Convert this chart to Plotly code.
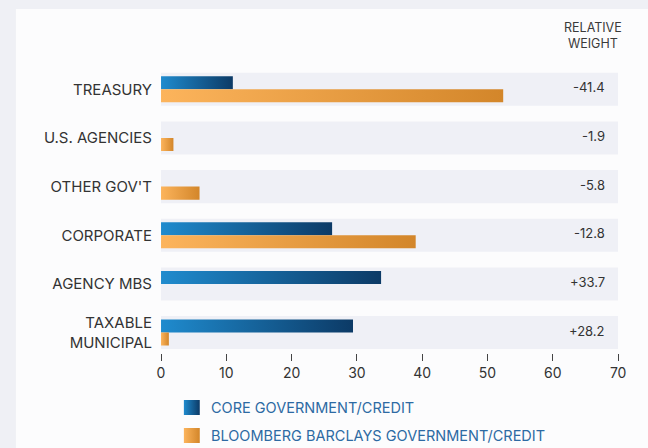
import plotly.graph_objects as go

# ---- data ----
categories = ["TREASURY", "U.S. AGENCIES", "OTHER GOV'T", "CORPORATE", "AGENCY MBS", "TAXABLE<br>MUNICIPAL"]
core_values = [11.0, 0.0, 0.0, 26.2, 33.7, 29.4]
bench_values = [52.4, 1.9, 5.9, 39.0, 0.0, 1.2]
relative_weight = ["-41.4", "-1.9", "-5.8", "-12.8", "+33.7", "+28.2"]
series_names = ["CORE GOVERNMENT/CREDIT", "BLOOMBERG BARCLAYS GOVERNMENT/CREDIT"]
x_ticks = [0, 10, 20, 30, 40, 50, 60, 70]

W, H = 648, 448
WE = 640  # effective rendered width used for positioning
FONT = "Inter"
BLUE_SCALE = [[0, "#1f8bce"], [1, "#0c3a66"]]
ORANGE_SCALE = [[0, "#fcb45c"], [1, "#d3862a"]]
BAND = "#eff0f6"

half = 0.134  # half bar thickness in category units

fig = go.Figure()


def add_bar(value, idx, offset, scale, name, group):
    if value <= 0:
        return
    y0 = idx + offset - half
    y1 = idx + offset + half
    fig.add_trace(go.Scatter(
        x=[0, value, value, 0, 0], y=[y0, y0, y1, y1, y0],
        mode="lines", line=dict(width=0), fill="toself",
        fillgradient=dict(type="horizontal", colorscale=scale),
        fillcolor=scale[0][1], showlegend=False, hoverinfo="skip",
        name=name, legendgroup=group, xaxis="x", yaxis="y"))


for i in range(len(categories)):
    add_bar(core_values[i], i, -half, BLUE_SCALE, series_names[0], "core")
    add_bar(bench_values[i], i, half, ORANGE_SCALE, series_names[1], "bench")

# legend swatches in a pixel-space overlay axis
sw = [(181, 400, BLUE_SCALE), (181, 428, ORANGE_SCALE)]
for (sx, sy, sc) in sw:
    fig.add_trace(go.Scatter(
        x=[sx, sx + 16, sx + 16, sx, sx], y=[sy, sy, sy + 15, sy + 15, sy],
        mode="lines", line=dict(width=0), fill="toself",
        fillgradient=dict(type="horizontal", colorscale=sc),
        fillcolor=sc[0][1], showlegend=False, hoverinfo="skip",
        xaxis="x2", yaxis="y2"))

shapes = [dict(type="rect", xref="paper", yref="paper", x0=12 / WE, x1=1.02, y0=0, y1=1 - 9 / H,
               fillcolor="#fcfcfd", line=dict(width=0), layer="below")]
for i in range(len(categories)):
    shapes.append(dict(type="rect", xref="x", yref="y", x0=0, x1=70, y0=i - 0.34, y1=i + 0.34,
                       fillcolor=BAND, line=dict(width=0), layer="below"))

annotations = [dict(text="RELATIVE<br>WEIGHT", xref="paper", yref="paper",
                    x=593 / WE, y=1 - 35 / H, xanchor="center", yanchor="middle",
                    showarrow=False, align="center",
                    font=dict(family=FONT, size=12.5, color="#3a3a3a"))]
for i, rw in enumerate(relative_weight):
    annotations.append(dict(text=rw, xref="paper", yref="y", x=607 / WE, y=i, yshift=2,
                            xanchor="right", yanchor="middle", showarrow=False,
                            font=dict(family=FONT, size=13, color="#333333")))
for k, name in enumerate(series_names):
    annotations.append(dict(text=name, xref="paper", yref="paper", x=206 / WE,
                            y=1 - (407 + 28 * k) / H, xanchor="left", yanchor="middle",
                            showarrow=False,
                            font=dict(family=FONT, size=14.5, color="#2d6aa3")))

fig.update_layout(
    width=W, height=H, autosize=False,
    margin=dict(l=0, r=0, t=0, b=0),
    paper_bgcolor="#eff0f5", plot_bgcolor="rgba(0,0,0,0)",
    showlegend=False,
    font=dict(family=FONT, color="#333333"),
    xaxis=dict(domain=[158 / WE, 618 / WE], range=[0, 70], tickvals=x_ticks,
               ticks="outside", ticklen=7, tickcolor="#444444", tickwidth=1,
               showgrid=False, zeroline=False, showline=False, anchor="y",
               tickfont=dict(family=FONT, size=14, color="#333333"), fixedrange=True),
    yaxis=dict(domain=[(H - 353) / H, (H - 65) / H], range=[5.42, -0.5],
               tickvals=list(range(len(categories))), ticktext=categories,
               ticks="", showgrid=False, zeroline=False, showline=False, anchor="x",
               ticklabelstandoff=8,
               tickfont=dict(family=FONT, size=15, color="#333333"), fixedrange=True),
    xaxis2=dict(domain=[0, 1], range=[0, WE], visible=False, anchor="y2", fixedrange=True),
    yaxis2=dict(domain=[0, 1], range=[H, 0], visible=False, anchor="x2", fixedrange=True),
    shapes=shapes, annotations=annotations,
)

fig.write_html("out.html", config={"displayModeBar": False, "responsive": False},
               post_script="document.body.style.margin='0';document.body.style.overflow='hidden';")
